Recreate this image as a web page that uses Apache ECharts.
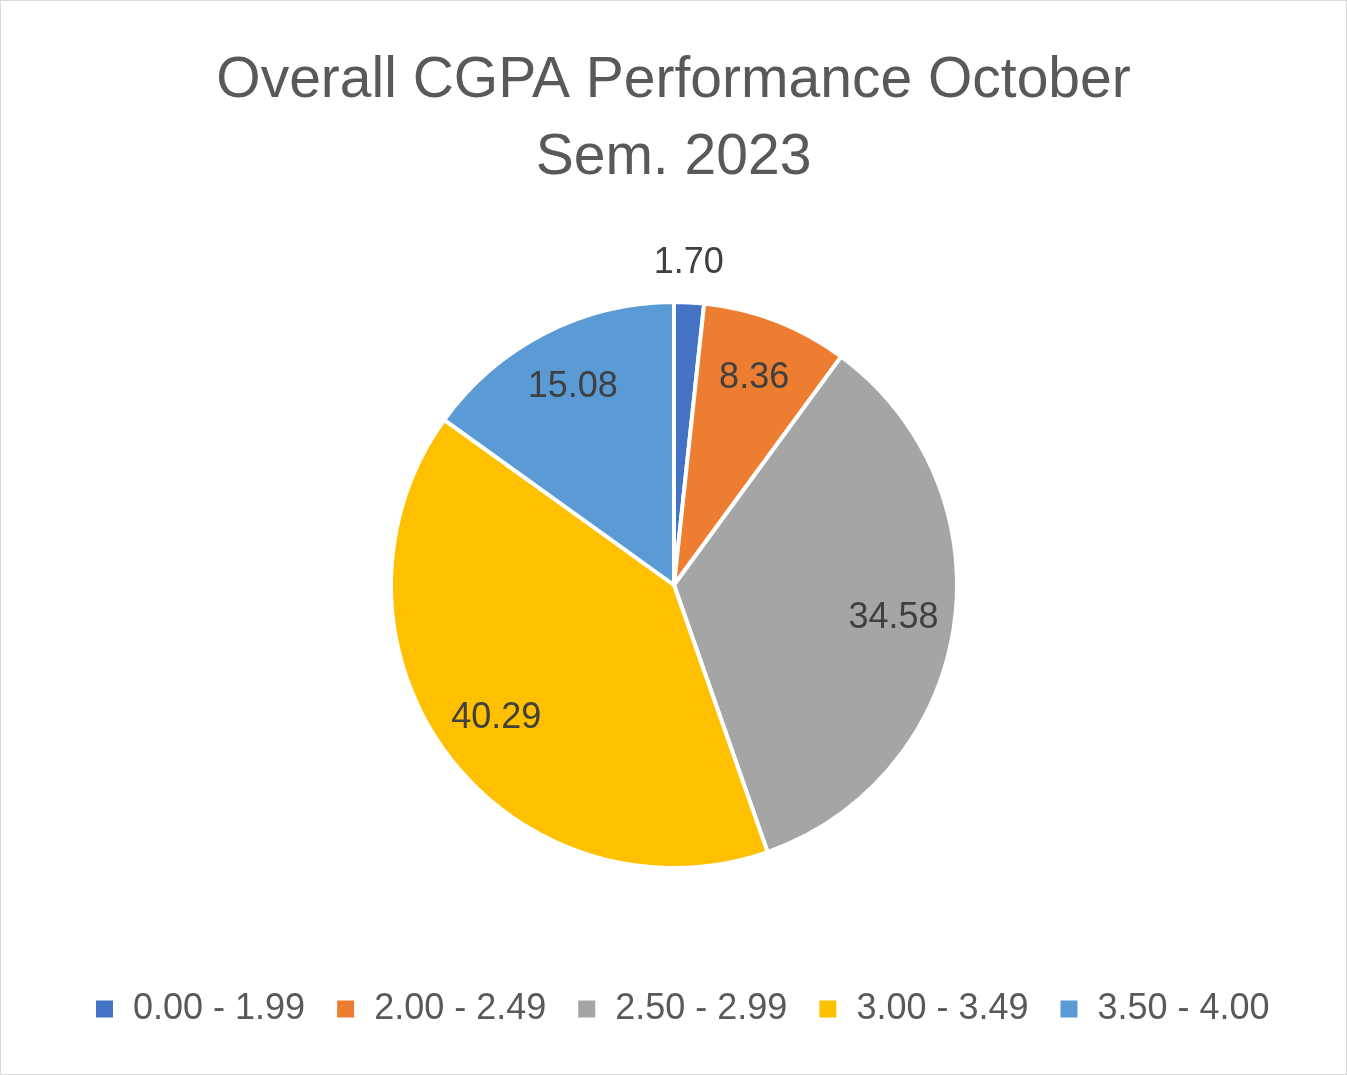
<!DOCTYPE html>
<html>
	<head>
		<meta charset="utf-8" />
		<title>Overall CGPA Performance October Sem. 2023</title>
		<script src="https://cdn.jsdelivr.net/npm/echarts@6/dist/echarts.min.js"></script>
		<style>
			html, body { margin: 0; padding: 0; background: #fff; }
			#main { width: 1347px; height: 1075px; box-sizing: border-box; border: 1px solid #d9d9d9; }
		</style>
	</head>

	<body>
		<div id="main"></div>
		<script type="text/javascript">
			// data
			var categories = ['0.00 - 1.99', '2.00 - 2.49', '2.50 - 2.99', '3.00 - 3.49', '3.50 - 4.00'];
			var values = [1.70, 8.36, 34.58, 40.29, 15.08];
			var colors = ['#4472C4', '#ED7D31', '#A5A5A5', '#FFC000', '#5B9BD5'];

			var myChart = echarts.init(document.getElementById('main'));
			var font = '"Liberation Sans", Arial, sans-serif';

			var pieData = categories.map(function (name, i) {
				return { name: name, value: values[i], itemStyle: { color: colors[i] } };
			});

			// second, see-through ring only carries the labels (so they sit further out like excel)
			var labelData = categories.map(function (name, i) {
				var d = { name: name, value: values[i] };
				if (i === 0) {
					// the thin slice gets its label just outside the pie
					d.label = { offset: [3, -100] };
				}
				return d;
			});

			var option = {
				backgroundColor: '#fff',
				title: {
					text: 'Overall CGPA Performance October\nSem. 2023',
					left: 'center',
					top: 37,
					textStyle: {
						fontFamily: font,
						fontSize: 57,
						fontWeight: 'normal',
						color: '#595959',
						lineHeight: 77
					}
				},
				legend: {
					data: categories,
					left: 88,
					top: 985,
					orient: 'horizontal',
					icon: 'rect',
					itemWidth: 19,
					itemHeight: 19,
					itemGap: 30,
					textStyle: {
						fontFamily: font,
						fontSize: 36,
						color: '#595959',
						padding: [0, 0, 0, 14]
					}
				},
				series: [
					{
						name: 'CGPA',
						type: 'pie',
						center: [673, 584],
						radius: [0, 283],
						startAngle: 90,
						clockwise: true,
						silent: true,
						label: { show: false },
						labelLine: { show: false },
						itemStyle: { borderColor: '#fff', borderWidth: 4 },
						data: pieData
					},
					{
						name: 'labels',
						type: 'pie',
						center: [673, 584],
						radius: [155, 283],
						startAngle: 90,
						clockwise: true,
						silent: true,
						legendHoverLink: false,
						itemStyle: { color: 'rgba(0,0,0,0)', borderWidth: 0 },
						labelLine: { show: false },
						label: {
							show: true,
							position: 'inside',
							fontFamily: font,
							fontSize: 36,
							color: '#404040',
							formatter: function (p) { return p.value.toFixed(2); }
						},
						data: labelData
					}
				]
			};
			myChart.setOption(option);
		</script>
	</body>
</html>
